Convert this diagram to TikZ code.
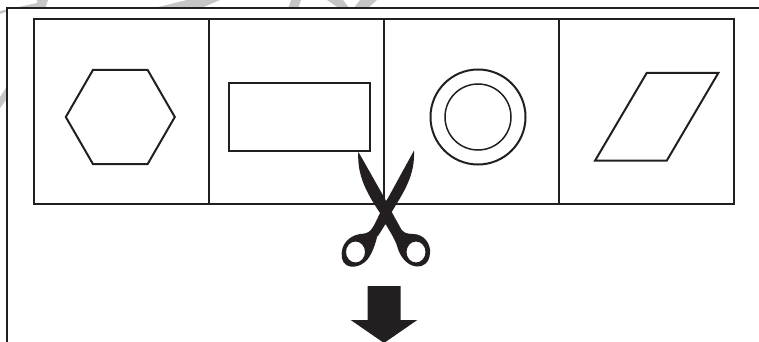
\documentclass[tikz,border=0pt]{standalone}
\usepackage{xcolor}
\usepackage{tikz}
\usetikzlibrary{shapes.geometric, positioning}

\definecolor{markgray}{HTML}{C6C6C6}
\definecolor{inkblack}{HTML}{231F20}

\begin{document}
\begin{tikzpicture}[
        x=1pt, y=-1pt,
        cellbox/.style={rectangle, draw=inkblack, line width=2pt, minimum width=175pt, minimum height=184pt, inner sep=0pt, outer sep=0pt},
        shapeline/.style={draw=inkblack, line width=2pt, inner sep=0pt, outer sep=0pt},
        thinline/.style={draw=inkblack, line width=1.5pt, inner sep=0pt, outer sep=0pt},
        node distance=0pt
    ]
    \useasboundingbox (0,0) rectangle (759,342);
    % watermark
    \fill[markgray] (0,11) -- (37,3) -- (37,0) -- (48,0) -- (45,9) -- (6,9) -- (6,12) -- (0,14) -- cycle;
    \fill[markgray] (150,9) -- (187,0) -- (220,0) -- (199,9) -- cycle;
    \fill[markgray] (288,9) -- (291,0) -- (301,0) -- (298,9) -- cycle;
    \fill[markgray] (327,0) -- (343,0) -- (350,9) -- (340,9) -- cycle;
    \fill[markgray] (353,9) -- (367,9) -- (377,0) -- (360,0) -- cycle;
    \fill[markgray] (6,88) -- (6,100) -- (0,108) -- (0,97) -- cycle;
    % frame
    \coordinate (frameBottom) at (7,342);
    \coordinate (frameCorner) at (7,8);
    \coordinate (frameRight) at (759,8);
    \draw[inkblack, line width=2pt] (frameBottom) -- (frameCorner) -- (frameRight);
    % cells
    \node[cellbox] (cellA) at (121.5,111.5) {};
    \node[cellbox, right=of cellA] (cellB) {};
    \node[cellbox, right=of cellB] (cellC) {};
    \node[cellbox, right=of cellC] (cellD) {};
    % figures
    \node[shapeline, regular polygon, regular polygon sides=6, minimum size=109pt] (hexa) at (120.3,117) {};
    \node[shapeline, rectangle, minimum width=141pt, minimum height=68pt] (rect) at (299.2,117) {};
    \node[shapeline, circle, minimum size=95pt] (ringOuter) at (478,117) {};
    \node[thinline, circle, minimum size=66pt] (ringInner) at (ringOuter) {};
    \draw[shapeline] (646.7,73) -- (718.3,73) -- (666.7,160.7) -- (595,160.7) -- cycle;
    % scissors
    \fill[inkblack, even odd rule]
        (358.3,151.7) -- (384.5,198)
        -- (386,201) -- (388,198) -- (414,150.5)
        .. controls (415,175) and (405,190) .. (391.7,212)
        -- (400,227)
        .. controls (402,232) and (406,234) .. (413,234)
        .. controls (424,234) and (431,244) .. (430,253)
        .. controls (429.5,263) and (423,267) .. (417,266.5)
        .. controls (408,266) and (401,258) .. (398,249)
        .. controls (396,242) and (394,238) .. (385.5,224)
        -- (378,236) -- (376,237) -- (377.5,235)
        .. controls (376,242) and (372,256) .. (365,262)
        .. controls (360,266) and (355,267) .. (351,266.7)
        .. controls (344,266) and (341,260) .. (341.7,253)
        .. controls (342,245) and (348,236) .. (360,234)
        .. controls (371,233.5) and (372,230) .. (380,213)
        .. controls (366,192) and (357,175) .. (358.3,151.7) -- cycle
        (416,252) ellipse [x radius=9.5, y radius=10.5]
        (355.5,252) ellipse [x radius=9.5, y radius=10.5];
    % down arrow
    \fill[inkblack] (367.7,286) -- (400.7,286) -- (400.7,320) -- (417.3,320) -- (384,343) -- (350.7,320) -- (367.7,320) -- cycle;
\end{tikzpicture}
\end{document}
